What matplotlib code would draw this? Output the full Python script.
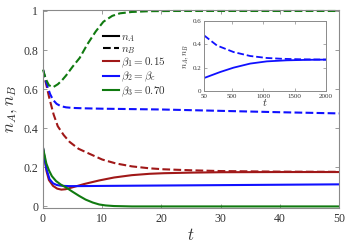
import numpy as np
import matplotlib
matplotlib.use('Agg')
import matplotlib.pyplot as plt
from matplotlib.lines import Line2D

plt.rcParams['font.family'] = 'serif'
plt.rcParams['font.serif'] = ['Liberation Serif', 'DejaVu Serif']
plt.rcParams['mathtext.fontset'] = 'cm'

# beta_1 = 0.15 (red)
t_red_a = [0, 0.3, 0.6, 1.0, 1.7, 2.4, 3.1, 3.8, 5.0, 7.0, 9.5, 12.0, 15.0, 18.0, 20.4, 25.0, 30.0, 40.0, 50.0]
n_red_a = [0.30, 0.24, 0.18, 0.135, 0.105, 0.091, 0.086, 0.088, 0.098, 0.115, 0.133, 0.148, 0.160, 0.167, 0.170, 0.173, 0.175, 0.176, 0.176]
t_red_b = [0, 0.5, 1.1, 1.8, 2.5, 3.5, 4.5, 6.0, 7.8, 10.0, 12.3, 15.0, 18.0, 20.4, 25.0, 30.0, 40.0, 50.0]
n_red_b = [0.70, 0.63, 0.55, 0.47, 0.41, 0.365, 0.33, 0.295, 0.27, 0.24, 0.22, 0.205, 0.195, 0.19, 0.185, 0.181, 0.178, 0.177]

# beta_2 = beta_c (blue)
t_blue_a = [0, 0.3, 0.6, 1.1, 1.7, 2.3, 2.8, 3.5, 4.5, 6.0, 10.0, 20.0, 30.0, 40.0, 50.0]
n_blue_a = [0.30, 0.24, 0.19, 0.14, 0.118, 0.110, 0.107, 0.105, 0.104, 0.104, 0.105, 0.107, 0.109, 0.111, 0.113]
t_blue_b = [0, 0.4, 0.8, 1.2, 1.7, 2.3, 3.0, 3.9, 5.0, 7.0, 10.0, 20.0, 30.0, 40.0, 50.0]
n_blue_b = [0.70, 0.65, 0.61, 0.575, 0.545, 0.525, 0.513, 0.507, 0.504, 0.502, 0.500, 0.496, 0.489, 0.482, 0.476]

# beta_3 = 0.70 (green)
t_green_a = [0, 0.56, 1.0, 1.5, 2.2, 3.0, 3.9, 5.0, 6.1, 7.2, 8.4, 9.5, 10.6, 12.0, 15.0, 20.0, 30.0, 50.0]
n_green_a = [0.30, 0.22, 0.185, 0.155, 0.13, 0.112, 0.097, 0.075, 0.054, 0.035, 0.02, 0.01, 0.005, 0.002, 0.0, 0.0, 0.0, 0.0]
t_green_b = [0, 0.5, 1.0, 1.7, 2.5, 3.2, 3.9, 5.0, 6.2, 7.5, 8.9, 10.2, 11.7, 13.0, 15.0, 18.0, 22.0, 30.0, 50.0]
n_green_b = [0.70, 0.65, 0.62, 0.61, 0.625, 0.645, 0.67, 0.715, 0.76, 0.83, 0.895, 0.945, 0.975, 0.988, 0.995, 0.999, 1.0, 1.0, 1.0]

# inset, beta_c long run
t_in_a = [50, 310, 522, 788, 1055, 1374, 1700, 2000]
n_in_a = [0.111, 0.163, 0.200, 0.235, 0.254, 0.263, 0.267, 0.269]
t_in_b = [50, 257, 522, 788, 1055, 1300, 1586, 2000]
n_in_b = [0.477, 0.390, 0.334, 0.300, 0.283, 0.276, 0.272, 0.269]

red = '#a01818'
blue = '#1010ff'
green = '#107a10'
frame = '#8a8a8a'
txt = '#333333'

fig = plt.figure(figsize=(3.48, 2.43), dpi=100)
ax = fig.add_axes([43 / 348, 1 - 208 / 243, 296 / 348, 198 / 243])

lw = 1.5
ax.plot(t_red_a, n_red_a, '-', color=red, lw=lw)
ax.plot(t_red_b, n_red_b, '--', color=red, lw=lw)
ax.plot(t_blue_a, n_blue_a, '-', color=blue, lw=lw)
ax.plot(t_blue_b, n_blue_b, '--', color=blue, lw=lw)
ax.plot(t_green_a, n_green_a, '-', color=green, lw=lw)
ax.plot(t_green_b, n_green_b, '--', color=green, lw=lw, clip_on=False)

ax.set_xlim(0, 50)
ax.set_ylim(-0.008, 1.005)
ax.set_xticks([0, 10, 20, 30, 40, 50])
ax.set_yticks([0, 0.2, 0.4, 0.6, 0.8, 1])
ax.set_yticklabels(['0', '0.2', '0.4', '0.6', '0.8', '1'])
ax.tick_params(direction='in', top=True, right=True, labelsize=8.5, length=3,
               color=frame, labelcolor=txt, width=0.6)
for s in ax.spines.values():
    s.set_color(frame)
    s.set_linewidth(0.8)
ax.set_xlabel('$t$', fontsize=12, color=txt, labelpad=2)
ax.set_ylabel('$n_A, n_B$', fontsize=12, color=txt, labelpad=3)

handles = [Line2D([], [], color='black', ls='-', lw=lw),
           Line2D([], [], color='black', ls='--', lw=lw),
           Line2D([], [], color=red, lw=lw),
           Line2D([], [], color=blue, lw=lw),
           Line2D([], [], color=green, lw=lw)]
labels = ['$n_A$', '$n_B$', r'$\beta_1 = 0.15$', r'$\beta_2 = \beta_c$', r'$\beta_3 = 0.70$']
leg = ax.legend(handles, labels, loc='upper left', bbox_to_anchor=(0.188, 0.91),
                frameon=False, fontsize=8, handlelength=1.4, handletextpad=0.2,
                labelspacing=0.0, borderaxespad=0)
for t in leg.get_texts():
    t.set_color(txt)

axi = fig.add_axes([204 / 348, 1 - 91 / 243, 122 / 348, 70 / 243])
axi.plot(t_in_a, n_in_a, '-', color=blue, lw=1.3)
axi.plot(t_in_b, n_in_b, '--', color=blue, lw=1.3)
axi.set_xlim(50, 2000)
axi.set_ylim(0, 0.6)
axi.set_xticks([50, 500, 1000, 1500, 2000])
axi.set_yticks([0, 0.2, 0.4, 0.6])
axi.set_yticklabels(['0', '0.2', '0.4', '0.6'])
axi.tick_params(direction='in', top=True, right=True, labelsize=5, length=2,
                color=frame, labelcolor=txt, width=0.5, pad=2)
for s in axi.spines.values():
    s.set_color(frame)
    s.set_linewidth(0.7)
axi.set_xlabel('$t$', fontsize=8, color=txt, labelpad=-1)
axi.set_ylabel('$n_A, n_B$', fontsize=6, color=txt, labelpad=1)

fig.savefig('out.png', dpi=100)
